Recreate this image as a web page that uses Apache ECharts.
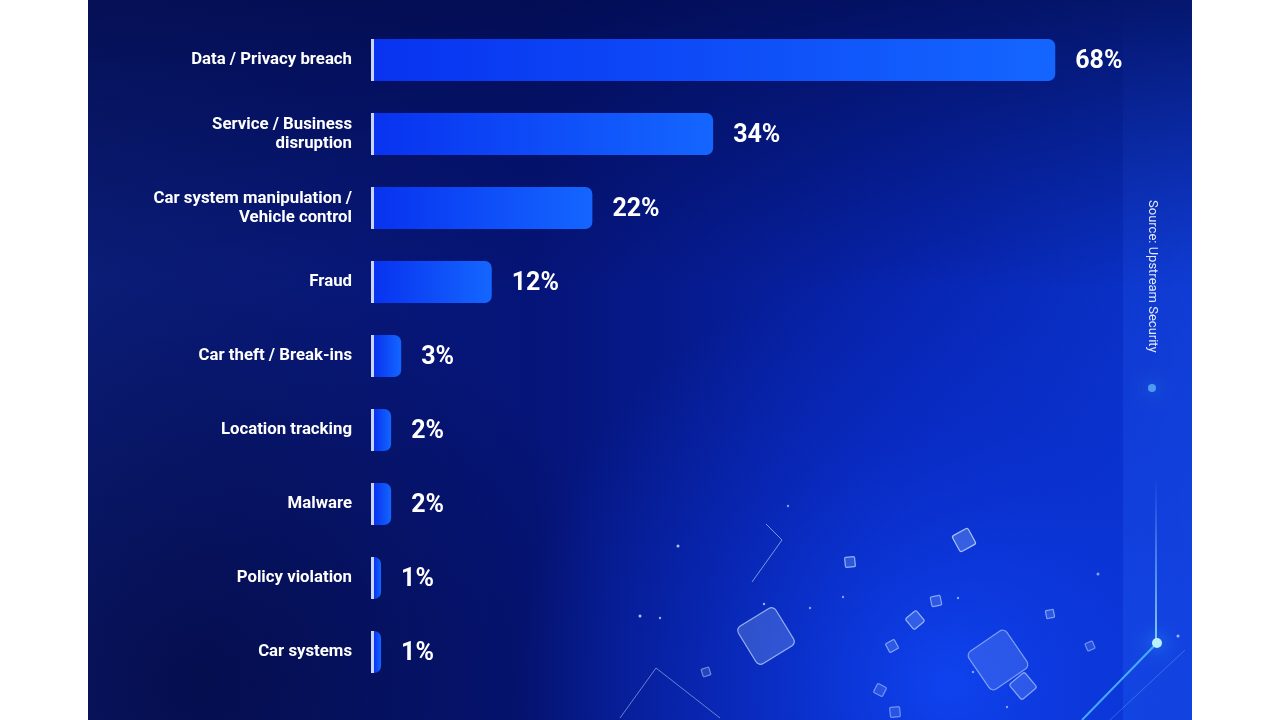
<!DOCTYPE html>
<html>
<head>
<meta charset="utf-8">
<title>Cyber attack impacts</title>
<script src="https://cdn.jsdelivr.net/npm/echarts@6/dist/echarts.min.js"></script>
<style>
  html, body { margin: 0; padding: 0; background: #fff; }
  #chart { width: 1280px; height: 720px; }
</style>
</head>
<body>
<div id="chart"></div>
<script>
const categories = [
    "Data / Privacy breach",
    "Service / Business\ndisruption",
    "Car system manipulation /\nVehicle control",
    "Fraud",
    "Car theft / Break-ins",
    "Location tracking",
    "Malware",
    "Policy violation",
    "Car systems"
]
const values = [68, 34, 22, 12, 3, 2, 2, 1, 1]
const sourceText = "Source: Upstream Security"

// light strip on the left of each bar, in axis units (about 3px)
const STRIP = 0.3

function barColor(v) {
    const s = Math.min(STRIP / v, 0.5)
    return new echarts.graphic.LinearGradient(0, 0, 1, 0, [
        { offset: 0, color: '#c6d4ff' },
        { offset: s, color: '#c6d4ff' },
        { offset: s, color: '#0833f0' },
        { offset: 1, color: '#1466ff' }
    ])
}

function cube(cx, cy, size, rot, op) {
    return {
        type: 'rect',
        x: cx, y: cy,
        rotation: rot,
        shape: { x: -size / 2, y: -size / 2, width: size, height: size, r: size * 0.12 },
        style: {
            fill: 'rgba(170,205,255,' + (op * 0.35) + ')',
            stroke: 'rgba(200,225,255,' + op + ')',
            lineWidth: 1.2
        },
        silent: true
    }
}

function dot(cx, cy, r, op) {
    return {
        type: 'circle',
        shape: { cx: cx, cy: cy, r: r },
        style: { fill: 'rgba(220,235,255,' + op + ')' },
        silent: true
    }
}

const bgGraphics = [
    // base panel
    {
        type: 'rect',
        shape: { x: 88, y: 0, width: 1104, height: 720 },
        style: {
            fill: new echarts.graphic.LinearGradient(0, 0, 1, 0, [
                { offset: 0, color: '#0b1d78' },
                { offset: 0.4, color: '#051478' },
                { offset: 0.75, color: '#0724ae' },
                { offset: 1, color: '#0a34cc' }
            ])
        },
        silent: true
    },
    // darker top and bottom-left
    {
        type: 'rect',
        shape: { x: 88, y: 0, width: 1104, height: 720 },
        style: {
            fill: new echarts.graphic.LinearGradient(0, 0, 0, 1, [
                { offset: 0, color: 'rgba(2,10,70,0.7)' },
                { offset: 0.4, color: 'rgba(2,10,70,0)' },
                { offset: 1, color: 'rgba(2,10,70,0)' }
            ])
        },
        silent: true
    },
    {
        type: 'rect',
        shape: { x: 88, y: 0, width: 1104, height: 720 },
        style: {
            fill: new echarts.graphic.RadialGradient(0.1, 0.95, 0.6, [
                { offset: 0, color: 'rgba(3,8,60,0.7)' },
                { offset: 1, color: 'rgba(3,8,60,0)' }
            ])
        },
        silent: true
    },
    // bright glow lower right
    {
        type: 'rect',
        shape: { x: 88, y: 0, width: 1104, height: 720 },
        style: {
            fill: new echarts.graphic.RadialGradient(0.78, 0.95, 0.6, [
                { offset: 0, color: 'rgba(16,70,245,0.9)' },
                { offset: 0.6, color: 'rgba(12,55,230,0.35)' },
                { offset: 1, color: 'rgba(12,55,230,0)' }
            ])
        },
        silent: true
    },
    // right panel
    {
        type: 'rect',
        shape: { x: 1123, y: 0, width: 69, height: 720 },
        style: {
            fill: new echarts.graphic.LinearGradient(0, 0, 0, 1, [
                { offset: 0, color: 'rgba(40,90,255,0)' },
                { offset: 0.45, color: 'rgba(40,100,255,0.2)' },
                { offset: 1, color: 'rgba(40,110,255,0.25)' }
            ])
        },
        silent: true
    },
    {
        type: 'line',
        shape: { x1: 1156, y1: 478, x2: 1156, y2: 640 },
        style: {
            stroke: new echarts.graphic.LinearGradient(0, 0, 0, 1, [
                { offset: 0, color: 'rgba(120,200,255,0)' },
                { offset: 1, color: 'rgba(150,220,255,0.9)' }
            ]),
            lineWidth: 2
        },
        silent: true
    },
    {
        type: 'line',
        shape: { x1: 1157, y1: 643, x2: 1082, y2: 720 },
        style: { stroke: 'rgba(80,190,255,0.85)', lineWidth: 2 },
        silent: true
    },
    {
        type: 'line',
        shape: { x1: 1185, y1: 650, x2: 1110, y2: 720 },
        style: { stroke: 'rgba(120,190,255,0.35)', lineWidth: 1 },
        silent: true
    },
    {
        type: 'circle',
        shape: { cx: 1157, cy: 643, r: 5 },
        style: { fill: '#bdf0ff', shadowBlur: 18, shadowColor: '#37c4ff' },
        silent: true
    },
    {
        type: 'circle',
        shape: { cx: 1152, cy: 388, r: 4 },
        style: { fill: 'rgba(120,210,255,0.6)', shadowBlur: 16, shadowColor: '#37b4ff' },
        silent: true
    },
    // thin connector lines
    {
        type: 'polyline',
        shape: { points: [[766, 524], [782, 540], [752, 582]] },
        style: { stroke: 'rgba(200,225,255,0.6)', lineWidth: 1, fill: null },
        silent: true
    },
    {
        type: 'polyline',
        shape: { points: [[620, 718], [656, 668], [720, 718]] },
        style: { stroke: 'rgba(200,225,255,0.5)', lineWidth: 1, fill: null },
        silent: true
    },
    cube(766, 636, 44, 0.55, 0.7),
    cube(998, 660, 46, 0.6, 0.55),
    cube(1023, 686, 20, 0.7, 0.6),
    cube(964, 540, 18, 0.5, 0.8),
    cube(915, 620, 14, 0.7, 0.7),
    cube(850, 562, 10, 0.1, 0.7),
    cube(892, 646, 10, 0.5, 0.6),
    cube(936, 601, 10, 0.2, 0.6),
    cube(1050, 614, 8, 0.2, 0.6),
    cube(706, 672, 8, 0.3, 0.5),
    cube(880, 690, 10, 1.1, 0.5),
    cube(895, 712, 10, 0.1, 0.5),
    cube(1090, 646, 8, 0.4, 0.5),
    dot(678, 546, 1.5, 0.8), dot(764, 604, 1.2, 0.7), dot(640, 616, 1.5, 0.8),
    dot(660, 618, 1.2, 0.7), dot(810, 608, 1.2, 0.6), dot(843, 597, 1.2, 0.6),
    dot(958, 598, 1.2, 0.6), dot(1098, 574, 1.5, 0.6), dot(788, 506, 1.2, 0.6),
    dot(973, 672, 1.2, 0.6), dot(1007, 707, 1.2, 0.6), dot(1178, 636, 1.5, 0.7)
]

const textGraphics = [
    {
        type: 'text',
        x: 1152,
        y: 200,
        rotation: -Math.PI / 2,
        style: {
            text: sourceText,
            fill: '#e3e9ff',
            font: '13px Roboto, "Noto Sans", sans-serif',
            textAlign: 'left',
            textVerticalAlign: 'middle'
        },
        z: 10,
        silent: true
    }
]

function setImpactChart() {
    const myChart = echarts.init(document.getElementById("chart"))

    const option = {
        backgroundColor: '#ffffff',
        animation: false,
        graphic: bgGraphics.concat(textGraphics),
        grid: {
            left: 371,
            right: 104,
            top: 23,
            bottom: 31
        },
        xAxis: {
            type: 'value',
            min: 0,
            max: 80,
            show: false
        },
        yAxis: {
            type: 'category',
            inverse: true,
            data: categories,
            axisLine: { show: false },
            axisTick: { show: false },
            splitLine: { show: false },
            axisLabel: {
                color: '#ffffff',
                fontFamily: 'Roboto',
                fontWeight: 'bold',
                fontSize: 16.8,
                lineHeight: 19,
                align: 'right',
                margin: 19
            }
        },
        series: [{
            type: 'bar',
            barWidth: 42,
            data: values.map(function (v) {
                return {
                    value: v,
                    itemStyle: { color: barColor(v) }
                }
            }),
            itemStyle: {
                borderRadius: [0, 7, 7, 0]
            },
            label: {
                show: true,
                position: 'right',
                distance: 20,
                offset: [0, 2],
                color: '#ffffff',
                fontFamily: 'Roboto',
                fontWeight: 'bold',
                fontSize: 25,
                formatter: function (p) {
                    return p.value + '%'
                }
            }
        }]
    }
    myChart.setOption(option)
}

setImpactChart()
</script>
</body>
</html>
